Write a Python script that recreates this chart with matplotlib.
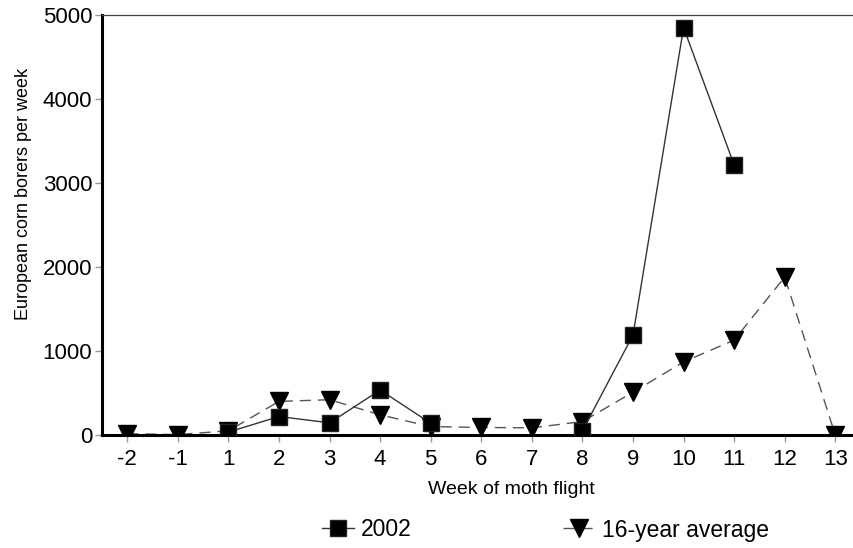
import numpy as np
import matplotlib.pyplot as plt

plt.rcParams['font.family'] = ['Liberation Sans', 'DejaVu Sans']

weeks = ['-2', '-1', '1', '2', '3', '4', '5', '6', '7', '8', '9', '10', '11', '12', '13']
y2002 = [np.nan, np.nan, 35, 220, 145, 535, 140, np.nan, np.nan, 50, 1190, 4850, 3215, np.nan, np.nan]
avg16 = [15, 5, 50, 400, 420, 240, 100, 90, 85, 160, 510, 870, 1130, 1880, 0]

x = np.arange(len(weeks))

fig = plt.figure(figsize=(8.54, 5.48), dpi=100)
ax = fig.add_axes([102/854, 113/548, 752/854, 420/548])

ax.plot(x, y2002, color='#333333', lw=1.0, marker='s', ms=11.5,
        mfc='black', mec='#222222', label='2002', zorder=3)
ax.plot(x, avg16, color='#555555', lw=1.0, ls=(0, (8, 5)), marker='v', ms=13,
        mfc='black', mec='black', label='16-year average', zorder=2)

ax.set_xlim(-0.5, 14.37)
ax.set_ylim(0, 5000)
ax.set_xticks(x)
ax.set_xticklabels(weeks)
ax.set_yticks([0, 1000, 2000, 3000, 4000, 5000])

ax.tick_params(axis='both', labelsize=16, colors='#999999', labelcolor='black',
               length=5, width=1)
ax.tick_params(axis='x', pad=5)
ax.tick_params(axis='y', pad=2)

ax.spines['right'].set_visible(False)
ax.spines['left'].set_linewidth(2.2)
ax.spines['bottom'].set_linewidth(2.2)
ax.spines['top'].set_linewidth(0.9)
ax.spines['top'].set_color('#444444')

ax.set_xlabel('Week of moth flight', fontsize=14)
ax.xaxis.set_label_coords(0.544, -0.11)
ax.set_ylabel('European corn borers per week', fontsize=13)
ax.yaxis.set_label_coords(-0.093, 0.574)

fig.legend(loc='center left', bbox_to_anchor=(0.377, 1 - 530/548), ncol=2, frameon=False,
           fontsize=16.5, handlelength=1.4, columnspacing=6.6, handletextpad=0.3,
           borderpad=0, borderaxespad=0)

fig.savefig('out.png', dpi=100)
